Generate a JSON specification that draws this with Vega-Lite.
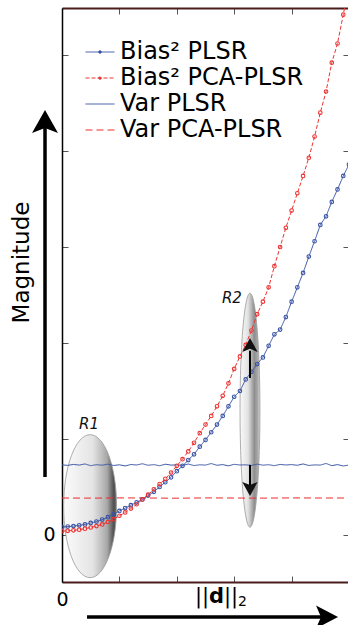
{
"$schema": "https://vega.github.io/schema/vega-lite/v6.json",
"width": 287, "height": 574,
"autosize": {"type": "none"},
"padding": {"left": 62, "top": 8, "right": 0, "bottom": 43},
"background": "white",
"config": {"view": {"stroke": null}, "font": "DejaVu Sans"},
"resolve": {"axis": {"x": "independent", "y": "independent"}},
"datasets": {
"curves": [
{"series":"Bias² PLSR","d":0,"m":0.083},{"series":"Bias² PLSR","d":0.1,"m":0.087},{"series":"Bias² PLSR","d":0.2,"m":0.093},{"series":"Bias² PLSR","d":0.3,"m":0.1},{"series":"Bias² PLSR","d":0.4,"m":0.11},{"series":"Bias² PLSR","d":0.5,"m":0.125},{"series":"Bias² PLSR","d":0.6,"m":0.14},{"series":"Bias² PLSR","d":0.7,"m":0.16},{"series":"Bias² PLSR","d":0.8,"m":0.185},{"series":"Bias² PLSR","d":0.9,"m":0.215},{"series":"Bias² PLSR","d":1.0,"m":0.25},{"series":"Bias² PLSR","d":1.1,"m":0.28},{"series":"Bias² PLSR","d":1.2,"m":0.31},{"series":"Bias² PLSR","d":1.3,"m":0.34},{"series":"Bias² PLSR","d":1.4,"m":0.37},{"series":"Bias² PLSR","d":1.5,"m":0.41},{"series":"Bias² PLSR","d":1.6,"m":0.45},{"series":"Bias² PLSR","d":1.7,"m":0.5},{"series":"Bias² PLSR","d":1.8,"m":0.55},{"series":"Bias² PLSR","d":1.9,"m":0.6},{"series":"Bias² PLSR","d":2.0,"m":0.665},{"series":"Bias² PLSR","d":2.1,"m":0.72},{"series":"Bias² PLSR","d":2.2,"m":0.78},{"series":"Bias² PLSR","d":2.3,"m":0.84},{"series":"Bias² PLSR","d":2.4,"m":0.92},{"series":"Bias² PLSR","d":2.5,"m":0.99},{"series":"Bias² PLSR","d":2.6,"m":1.07},{"series":"Bias² PLSR","d":2.7,"m":1.15},{"series":"Bias² PLSR","d":2.8,"m":1.24},{"series":"Bias² PLSR","d":2.9,"m":1.34},{"series":"Bias² PLSR","d":3.0,"m":1.44},{"series":"Bias² PLSR","d":3.1,"m":1.5},{"series":"Bias² PLSR","d":3.2,"m":1.62},{"series":"Bias² PLSR","d":3.3,"m":1.7},{"series":"Bias² PLSR","d":3.4,"m":1.78},{"series":"Bias² PLSR","d":3.5,"m":1.85},{"series":"Bias² PLSR","d":3.6,"m":1.97},{"series":"Bias² PLSR","d":3.7,"m":2.09},{"series":"Bias² PLSR","d":3.8,"m":2.14},{"series":"Bias² PLSR","d":3.9,"m":2.27},{"series":"Bias² PLSR","d":4.0,"m":2.43},{"series":"Bias² PLSR","d":4.1,"m":2.58},{"series":"Bias² PLSR","d":4.2,"m":2.73},{"series":"Bias² PLSR","d":4.3,"m":2.9},{"series":"Bias² PLSR","d":4.4,"m":3.06},{"series":"Bias² PLSR","d":4.5,"m":3.23},{"series":"Bias² PLSR","d":4.6,"m":3.32},{"series":"Bias² PLSR","d":4.7,"m":3.47},{"series":"Bias² PLSR","d":4.8,"m":3.6},{"series":"Bias² PLSR","d":4.9,"m":3.74},{"series":"Bias² PLSR","d":5.0,"m":3.86},
{"series":"Bias² PCA-PLSR","d":0,"m":0.04},{"series":"Bias² PCA-PLSR","d":0.1,"m":0.043},{"series":"Bias² PCA-PLSR","d":0.2,"m":0.048},{"series":"Bias² PCA-PLSR","d":0.3,"m":0.055},{"series":"Bias² PCA-PLSR","d":0.4,"m":0.065},{"series":"Bias² PCA-PLSR","d":0.5,"m":0.078},{"series":"Bias² PCA-PLSR","d":0.6,"m":0.093},{"series":"Bias² PCA-PLSR","d":0.7,"m":0.11},{"series":"Bias² PCA-PLSR","d":0.8,"m":0.135},{"series":"Bias² PCA-PLSR","d":0.9,"m":0.165},{"series":"Bias² PCA-PLSR","d":1.0,"m":0.2},{"series":"Bias² PCA-PLSR","d":1.1,"m":0.235},{"series":"Bias² PCA-PLSR","d":1.2,"m":0.275},{"series":"Bias² PCA-PLSR","d":1.3,"m":0.32},{"series":"Bias² PCA-PLSR","d":1.4,"m":0.37},{"series":"Bias² PCA-PLSR","d":1.5,"m":0.42},{"series":"Bias² PCA-PLSR","d":1.6,"m":0.475},{"series":"Bias² PCA-PLSR","d":1.7,"m":0.53},{"series":"Bias² PCA-PLSR","d":1.8,"m":0.585},{"series":"Bias² PCA-PLSR","d":1.9,"m":0.65},{"series":"Bias² PCA-PLSR","d":2.0,"m":0.72},{"series":"Bias² PCA-PLSR","d":2.1,"m":0.79},{"series":"Bias² PCA-PLSR","d":2.2,"m":0.87},{"series":"Bias² PCA-PLSR","d":2.3,"m":0.96},{"series":"Bias² PCA-PLSR","d":2.4,"m":1.06},{"series":"Bias² PCA-PLSR","d":2.5,"m":1.15},{"series":"Bias² PCA-PLSR","d":2.6,"m":1.24},{"series":"Bias² PCA-PLSR","d":2.7,"m":1.34},{"series":"Bias² PCA-PLSR","d":2.8,"m":1.45},{"series":"Bias² PCA-PLSR","d":2.9,"m":1.58},{"series":"Bias² PCA-PLSR","d":3.0,"m":1.73},{"series":"Bias² PCA-PLSR","d":3.1,"m":1.86},{"series":"Bias² PCA-PLSR","d":3.2,"m":1.98},{"series":"Bias² PCA-PLSR","d":3.3,"m":2.13},{"series":"Bias² PCA-PLSR","d":3.4,"m":2.3},{"series":"Bias² PCA-PLSR","d":3.5,"m":2.43},{"series":"Bias² PCA-PLSR","d":3.6,"m":2.58},{"series":"Bias² PCA-PLSR","d":3.7,"m":2.8},{"series":"Bias² PCA-PLSR","d":3.8,"m":3.0},{"series":"Bias² PCA-PLSR","d":3.9,"m":3.2},{"series":"Bias² PCA-PLSR","d":4.0,"m":3.38},{"series":"Bias² PCA-PLSR","d":4.1,"m":3.56},{"series":"Bias² PCA-PLSR","d":4.2,"m":3.74},{"series":"Bias² PCA-PLSR","d":4.3,"m":3.93},{"series":"Bias² PCA-PLSR","d":4.4,"m":4.15},{"series":"Bias² PCA-PLSR","d":4.5,"m":4.4},{"series":"Bias² PCA-PLSR","d":4.6,"m":4.62},{"series":"Bias² PCA-PLSR","d":4.7,"m":4.92},{"series":"Bias² PCA-PLSR","d":4.8,"m":5.12},{"series":"Bias² PCA-PLSR","d":4.9,"m":5.42},{"series":"Bias² PCA-PLSR","d":5.0,"m":5.72},
{"series":"Var PLSR","d":0,"m":0.73},{"series":"Var PLSR","d":0.1,"m":0.725},{"series":"Var PLSR","d":0.2,"m":0.735},{"series":"Var PLSR","d":0.3,"m":0.728},{"series":"Var PLSR","d":0.4,"m":0.74},{"series":"Var PLSR","d":0.5,"m":0.722},{"series":"Var PLSR","d":0.6,"m":0.732},{"series":"Var PLSR","d":0.7,"m":0.727},{"series":"Var PLSR","d":0.8,"m":0.738},{"series":"Var PLSR","d":0.9,"m":0.724},{"series":"Var PLSR","d":1.0,"m":0.731},{"series":"Var PLSR","d":1.1,"m":0.719},{"series":"Var PLSR","d":1.2,"m":0.734},{"series":"Var PLSR","d":1.3,"m":0.729},{"series":"Var PLSR","d":1.4,"m":0.742},{"series":"Var PLSR","d":1.5,"m":0.726},{"series":"Var PLSR","d":1.6,"m":0.733},{"series":"Var PLSR","d":1.7,"m":0.721},{"series":"Var PLSR","d":1.8,"m":0.737},{"series":"Var PLSR","d":1.9,"m":0.728},{"series":"Var PLSR","d":2.0,"m":0.73},{"series":"Var PLSR","d":2.1,"m":0.725},{"series":"Var PLSR","d":2.2,"m":0.739},{"series":"Var PLSR","d":2.3,"m":0.723},{"series":"Var PLSR","d":2.4,"m":0.731},{"series":"Var PLSR","d":2.5,"m":0.728},{"series":"Var PLSR","d":2.6,"m":0.744},{"series":"Var PLSR","d":2.7,"m":0.726},{"series":"Var PLSR","d":2.8,"m":0.733},{"series":"Var PLSR","d":2.9,"m":0.72},{"series":"Var PLSR","d":3.0,"m":0.736},{"series":"Var PLSR","d":3.1,"m":0.729},{"series":"Var PLSR","d":3.2,"m":0.731},{"series":"Var PLSR","d":3.3,"m":0.724},{"series":"Var PLSR","d":3.4,"m":0.738},{"series":"Var PLSR","d":3.5,"m":0.727},{"series":"Var PLSR","d":3.6,"m":0.732},{"series":"Var PLSR","d":3.7,"m":0.722},{"series":"Var PLSR","d":3.8,"m":0.735},{"series":"Var PLSR","d":3.9,"m":0.729},{"series":"Var PLSR","d":4.0,"m":0.733},{"series":"Var PLSR","d":4.1,"m":0.726},{"series":"Var PLSR","d":4.2,"m":0.74},{"series":"Var PLSR","d":4.3,"m":0.724},{"series":"Var PLSR","d":4.4,"m":0.73},{"series":"Var PLSR","d":4.5,"m":0.728},{"series":"Var PLSR","d":4.6,"m":0.745},{"series":"Var PLSR","d":4.7,"m":0.722},{"series":"Var PLSR","d":4.8,"m":0.733},{"series":"Var PLSR","d":4.9,"m":0.719},{"series":"Var PLSR","d":5.0,"m":0.728},
{"series":"Var PCA-PLSR","d":0,"m":0.385},{"series":"Var PCA-PLSR","d":0.5,"m":0.384},{"series":"Var PCA-PLSR","d":1.0,"m":0.386},{"series":"Var PCA-PLSR","d":1.5,"m":0.385},{"series":"Var PCA-PLSR","d":2.0,"m":0.383},{"series":"Var PCA-PLSR","d":2.5,"m":0.386},{"series":"Var PCA-PLSR","d":3.0,"m":0.385},{"series":"Var PCA-PLSR","d":3.5,"m":0.384},{"series":"Var PCA-PLSR","d":4.0,"m":0.386},{"series":"Var PCA-PLSR","d":4.5,"m":0.385},{"series":"Var PCA-PLSR","d":5.0,"m":0.385}
]},
"layer": [
{"data": {"values": [{}]},
 "mark": {"type": "point", "shape": "M-0.37,0A0.37,1 0 1,0 0.37,0A0.37,1 0 1,0 -0.37,0Z", "size": 20449, "filled": true, "opacity": 1,
  "fill": {"gradient": "linear", "x1": 0, "y1": 0, "x2": 1, "y2": 0, "stops": [{"offset": 0, "color": "#fbfbfb"}, {"offset": 0.55, "color": "#e4e4e4"}, {"offset": 0.82, "color": "#a8a8a8"}, {"offset": 0.95, "color": "#4e4e4e"}, {"offset": 1, "color": "#777777"}]},
  "stroke": "#999999", "strokeWidth": 0.8},
 "encoding": {"x": {"datum": 0.49, "type": "quantitative", "axis": null}, "y": {"datum": 0.3, "type": "quantitative", "axis": null}}},
{"data": {"values": [{}]},
 "mark": {"type": "point", "shape": "M-0.085,0A0.085,1 0 1,0 0.085,0A0.085,1 0 1,0 -0.085,0Z", "size": 54756, "filled": true, "opacity": 1,
  "fill": {"gradient": "linear", "x1": 0, "y1": 0, "x2": 1, "y2": 0, "stops": [{"offset": 0, "color": "#fafafa"}, {"offset": 0.4, "color": "#e2e2e2"}, {"offset": 0.72, "color": "#8e8e8e"}, {"offset": 0.88, "color": "#a8a8a8"}, {"offset": 1, "color": "#d8d8d8"}]},
  "stroke": "#999999", "strokeWidth": 0.8},
 "encoding": {"x": {"datum": 3.275, "type": "quantitative", "axis": null}, "y": {"datum": 1.3, "type": "quantitative", "axis": null}}},
{"data": {"name": "curves"},
 "mark": {"type": "line", "clip": true},
 "encoding": {
  "x": {"field": "d", "type": "quantitative", "scale": {"domain": [0, 5], "nice": false, "zero": false},
   "axis": {"orient": "bottom", "title": null, "values": [0, 1, 2, 3, 4, 5], "labelExpr": "datum.value == 0 ? '0' : ''", "labelFlush": false, "tickSize": -6, "tickColor": "#555", "tickWidth": 1, "domainColor": "#4a1c1c", "domainWidth": 2.2, "labelFontSize": 19, "labelColor": "#000", "labelPadding": 14, "grid": false}},
  "y": {"field": "m", "type": "quantitative", "scale": {"domain": [-0.49, 5.49], "nice": false, "zero": false},
   "axis": {"orient": "left", "title": "Magnitude", "titleFontSize": 23, "titleFontWeight": "normal", "titleColor": "#000", "titleX": -41, "titleY": 254, "titleBaseline": "middle", "titleAngle": -90, "values": [0, 1, 2, 3, 4, 5], "labelExpr": "datum.value == 0 ? '0' : ''", "labelFlush": false, "tickSize": -6, "tickColor": "#555", "domainColor": "#000", "domainWidth": 1.5, "labelFontSize": 19, "labelColor": "#000", "labelPadding": 13, "grid": false}},
  "color": {"field": "series", "type": "nominal", "scale": {"domain": ["Bias² PLSR", "Bias² PCA-PLSR", "Var PLSR", "Var PCA-PLSR"], "range": ["#3953a4", "#ee3333", "#3953a4", "#f02a2a"]},
   "legend": {"title": null, "orient": "none", "legendX": 26, "legendY": 32, "padding": 0, "symbolSize": 400, "labelFontSize": 24, "labelFont": "DejaVu Sans", "labelColor": "#000", "labelOffset": 8, "rowPadding": 2, "labelLimit": 400,
    "encode": {"symbols": {"update": {
      "shape": {"signal": "indexof(datum.value, 'Bias') >= 0 ? 'M-1.45,0H1.45M-0.13,0A0.13,0.13 0 1,0 0.13,0A0.13,0.13 0 1,0 -0.13,0' : 'M-1.45,0H1.45'"},
      "strokeDash": {"signal": "indexof(datum.value, 'PCA') >= 0 ? (indexof(datum.value, 'Var') >= 0 ? [6, 3] : [4, 3]) : [1, 0]"},
      "strokeWidth": {"signal": "indexof(datum.value, 'Var') >= 0 ? 2 : 1.1"},
      "fill": {"scale": "color", "field": "value"},
      "opacity": {"value": 1}}}}}},
  "strokeDash": {"field": "series", "type": "nominal", "scale": {"domain": ["Bias² PLSR", "Bias² PCA-PLSR", "Var PLSR", "Var PCA-PLSR"], "range": [[1, 0], [4, 2], [1, 0], [7, 4]]}, "legend": null},
  "strokeWidth": {"field": "series", "type": "nominal", "scale": {"domain": ["Bias² PLSR", "Bias² PCA-PLSR", "Var PLSR", "Var PCA-PLSR"], "range": [1, 1, 2, 2]}, "legend": null}
 }},
{"data": {"name": "curves"},
 "transform": [{"filter": "datum.series == 'Bias² PLSR'"}],
 "mark": {"type": "point", "clip": true, "filled": false, "color": "#3953a4", "size": 13, "strokeWidth": 1.1, "opacity": 1},
 "encoding": {
  "x": {"field": "d", "type": "quantitative", "axis": {"orient": "top", "title": null, "values": [0, 1, 2, 3, 4, 5], "labels": false, "tickSize": -6, "tickColor": "#555", "domainColor": "#4a1c1c", "domainWidth": 2.2, "grid": false}},
  "y": {"field": "m", "type": "quantitative", "axis": {"orient": "right", "title": null, "values": [0, 1, 2, 3, 4, 5], "labels": false, "tickSize": -6, "tickColor": "#555", "domain": false, "grid": false}}
 }},
{"data": {"name": "curves"},
 "transform": [{"filter": "datum.series == 'Bias² PCA-PLSR'"}],
 "mark": {"type": "point", "clip": true, "filled": false, "color": "#ee3333", "size": 13, "strokeWidth": 1.1, "opacity": 1},
 "encoding": {
  "x": {"field": "d", "type": "quantitative", "axis": null},
  "y": {"field": "m", "type": "quantitative", "axis": null}
 }},
{"data": {"values": [{}]},
 "mark": {"type": "rule", "color": "#000", "strokeWidth": 2},
 "encoding": {"x": {"datum": 3.275, "type": "quantitative", "axis": null}, "y": {"datum": 1.635, "type": "quantitative", "axis": null}, "y2": {"datum": 1.92}}},
{"data": {"values": [{}]},
 "mark": {"type": "point", "shape": "M0,-1L1.1,1L0,0.55L-1.1,1Z", "size": 196, "filled": true, "color": "#111", "opacity": 1},
 "encoding": {"x": {"datum": 3.275, "type": "quantitative", "axis": null}, "y": {"datum": 1.98, "type": "quantitative", "axis": null}}},
{"data": {"values": [{}]},
 "mark": {"type": "rule", "color": "#000", "strokeWidth": 2},
 "encoding": {"x": {"datum": 3.275, "type": "quantitative", "axis": null}, "y": {"datum": 0.73, "type": "quantitative", "axis": null}, "y2": {"datum": 0.52}}},
{"data": {"values": [{}]},
 "mark": {"type": "point", "shape": "M0,1L1.1,-1L0,-0.55L-1.1,-1Z", "size": 196, "filled": true, "color": "#111", "opacity": 1},
 "encoding": {"x": {"datum": 3.275, "type": "quantitative", "axis": null}, "y": {"datum": 0.48, "type": "quantitative", "axis": null}}},
{"data": {"values": [{}]},
 "mark": {"type": "rule", "color": "#000", "strokeWidth": 3.5},
 "encoding": {"x": {"datum": -0.296, "type": "quantitative", "axis": null}, "y": {"datum": 0.604, "type": "quantitative", "axis": null}, "y2": {"datum": 4.24}}},
{"data": {"values": [{}]},
 "mark": {"type": "point", "shape": "M0,-1L1.13,1L0,0.55L-1.13,1Z", "size": 529, "filled": true, "color": "#000", "opacity": 1},
 "encoding": {"x": {"datum": -0.296, "type": "quantitative", "axis": null}, "y": {"datum": 4.307, "type": "quantitative", "axis": null}}},
{"data": {"values": [{}]},
 "mark": {"type": "rule", "color": "#000", "strokeWidth": 3.5},
 "encoding": {"x": {"datum": 0.436, "type": "quantitative", "axis": null}, "x2": {"datum": 4.55}, "y": {"datum": -0.854, "type": "quantitative", "axis": null}}},
{"data": {"values": [{}]},
 "mark": {"type": "point", "shape": "M1,0L-1,1.05L-0.55,0L-1,-1.05Z", "size": 484, "filled": true, "color": "#000", "opacity": 1},
 "encoding": {"x": {"datum": 4.617, "type": "quantitative", "axis": null}, "y": {"datum": -0.854, "type": "quantitative", "axis": null}}},
{"data": {"values": [{}]},
 "mark": {"type": "text", "text": "R1", "fontSize": 15, "fontStyle": "italic", "color": "#111", "align": "center", "baseline": "middle"},
 "encoding": {"x": {"datum": 0.47, "type": "quantitative", "axis": null}, "y": {"datum": 1.16, "type": "quantitative", "axis": null}}},
{"data": {"values": [{}]},
 "mark": {"type": "text", "text": "R2", "fontSize": 15, "fontStyle": "italic", "color": "#111", "align": "center", "baseline": "middle"},
 "encoding": {"x": {"datum": 2.96, "type": "quantitative", "axis": null}, "y": {"datum": 2.47, "type": "quantitative", "axis": null}}},
{"data": {"values": [{}]},
 "mark": {"type": "text", "text": "||", "fontSize": 21, "color": "#000", "align": "left", "baseline": "alphabetic"},
 "encoding": {"x": {"datum": 2.317, "type": "quantitative", "axis": null}, "y": {"datum": -0.708, "type": "quantitative", "axis": null}}},
{"data": {"values": [{}]},
 "mark": {"type": "text", "text": "d", "fontSize": 21, "fontWeight": "bold", "color": "#000", "align": "left", "baseline": "alphabetic"},
 "encoding": {"x": {"datum": 2.561, "type": "quantitative", "axis": null}, "y": {"datum": -0.708, "type": "quantitative", "axis": null}}},
{"data": {"values": [{}]},
 "mark": {"type": "text", "text": "||", "fontSize": 21, "color": "#000", "align": "left", "baseline": "alphabetic"},
 "encoding": {"x": {"datum": 2.822, "type": "quantitative", "axis": null}, "y": {"datum": -0.708, "type": "quantitative", "axis": null}}},
{"data": {"values": [{}]},
 "mark": {"type": "text", "text": "2", "fontSize": 14, "color": "#000", "align": "left", "baseline": "alphabetic"},
 "encoding": {"x": {"datum": 3.066, "type": "quantitative", "axis": null}, "y": {"datum": -0.74, "type": "quantitative", "axis": null}}}
]
}
